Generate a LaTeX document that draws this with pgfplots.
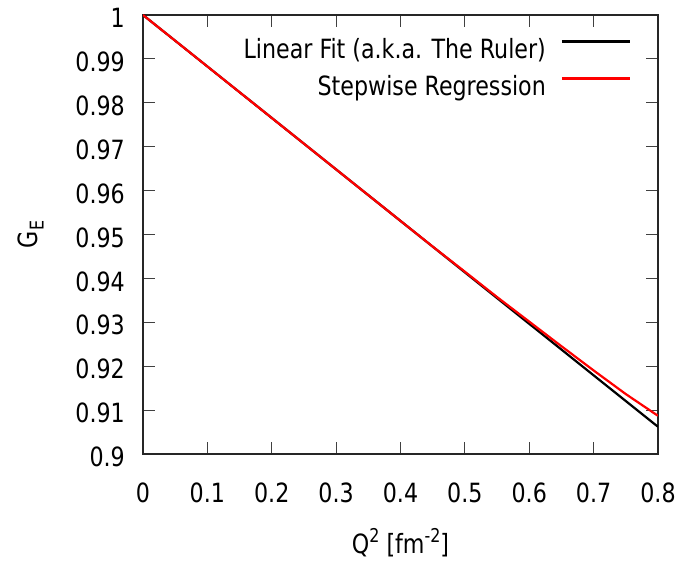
\documentclass[border=0pt]{standalone}
\usepackage{fontspec}
\setmainfont{DejaVu Sans Condensed}[FakeStretch=0.93]
\usepackage{pgfplots}
\pgfplotsset{compat=1.18}
% raised / lowered small text for exponents and indices
\newcommand\sups[1]{\raisebox{0.42em}{\fontsize{19}{20}\selectfont #1}}
\newcommand\subs[1]{\raisebox{-0.22em}{\fontsize{19}{20}\selectfont #1}}

\begin{document}
\begin{tikzpicture}[font=\fontsize{26.5}{31}\selectfont]
\path[use as bounding box] (-143pt,-109pt) rectangle (553pt,454pt);
\begin{axis}[
  at={(0pt,0pt)}, anchor=south west,
  scale only axis,
  width=515pt, height=439pt,
  xmin=0, xmax=0.8, ymin=0.9, ymax=1,
  axis line style={black!85, line width=1.2pt},
  tick align=inside,
  tick pos=both,
  major tick length=12pt,
  every tick/.style={black!75, line width=1.1pt},
  xtick={0,0.1,0.2,0.3,0.4,0.5,0.6,0.7,0.8},
  xticklabels={0,0.1,0.2,0.3,0.4,0.5,0.6,0.7,0.8},
  ytick={0.9,0.91,0.92,0.93,0.94,0.95,0.96,0.97,0.98,0.99,1},
  yticklabels={0.9,0.91,0.92,0.93,0.94,0.95,0.96,0.97,0.98,0.99,1},
  xticklabel style={anchor=center, inner sep=0pt, yshift=-39pt},
  yticklabel style={anchor=east, inner sep=0pt, xshift=-18pt, yshift=-3pt},
  xlabel={Q\sups{2} [fm\sups{-2}]},
  xlabel style={at={(axis description cs:0.5,-0.2027)}, anchor=center, inner sep=0pt},
  ylabel={G\subs{E}},
  ylabel style={at={(axis description cs:-0.2175,0.5)}, anchor=center, inner sep=0pt},
  legend plot pos=right,
  legend cell align=right,
  legend image code/.code={\draw[#1] (0pt,9.5pt) -- (68pt,9.5pt);},
  legend style={draw=none, fill=none, inner sep=0pt, outer sep=0pt,
    at={(rel axis cs:0.9476,0.9476)}, anchor=north east,
    column sep=15pt, row sep=11pt,
    nodes={inner sep=0pt, text height=20pt, text depth=6pt}},
]
% straight-line fit
\addplot[black, line width=2.2pt] coordinates {
  (0,1.0) (0.1,0.988275) (0.2,0.97655) (0.3,0.964825) (0.4,0.9531)
  (0.5,0.941375) (0.6,0.92965) (0.7,0.917925) (0.8,0.9062)
};
\addlegendentry{Linear Fit (a.k.a. The Ruler)}
% stepwise regression curve
\addplot[red, line width=2.2pt] coordinates {
  (0,1.0) (0.1,0.988275) (0.2,0.97655) (0.3,0.964825) (0.4,0.9531)
  (0.45,0.94725) (0.5,0.94153) (0.55,0.93575) (0.6,0.93015)
  (0.65,0.92455) (0.7,0.91903) (0.75,0.91365) (0.8,0.9087)
};
\addlegendentry{Stepwise Regression}
\end{axis}
\end{tikzpicture}
\end{document}
